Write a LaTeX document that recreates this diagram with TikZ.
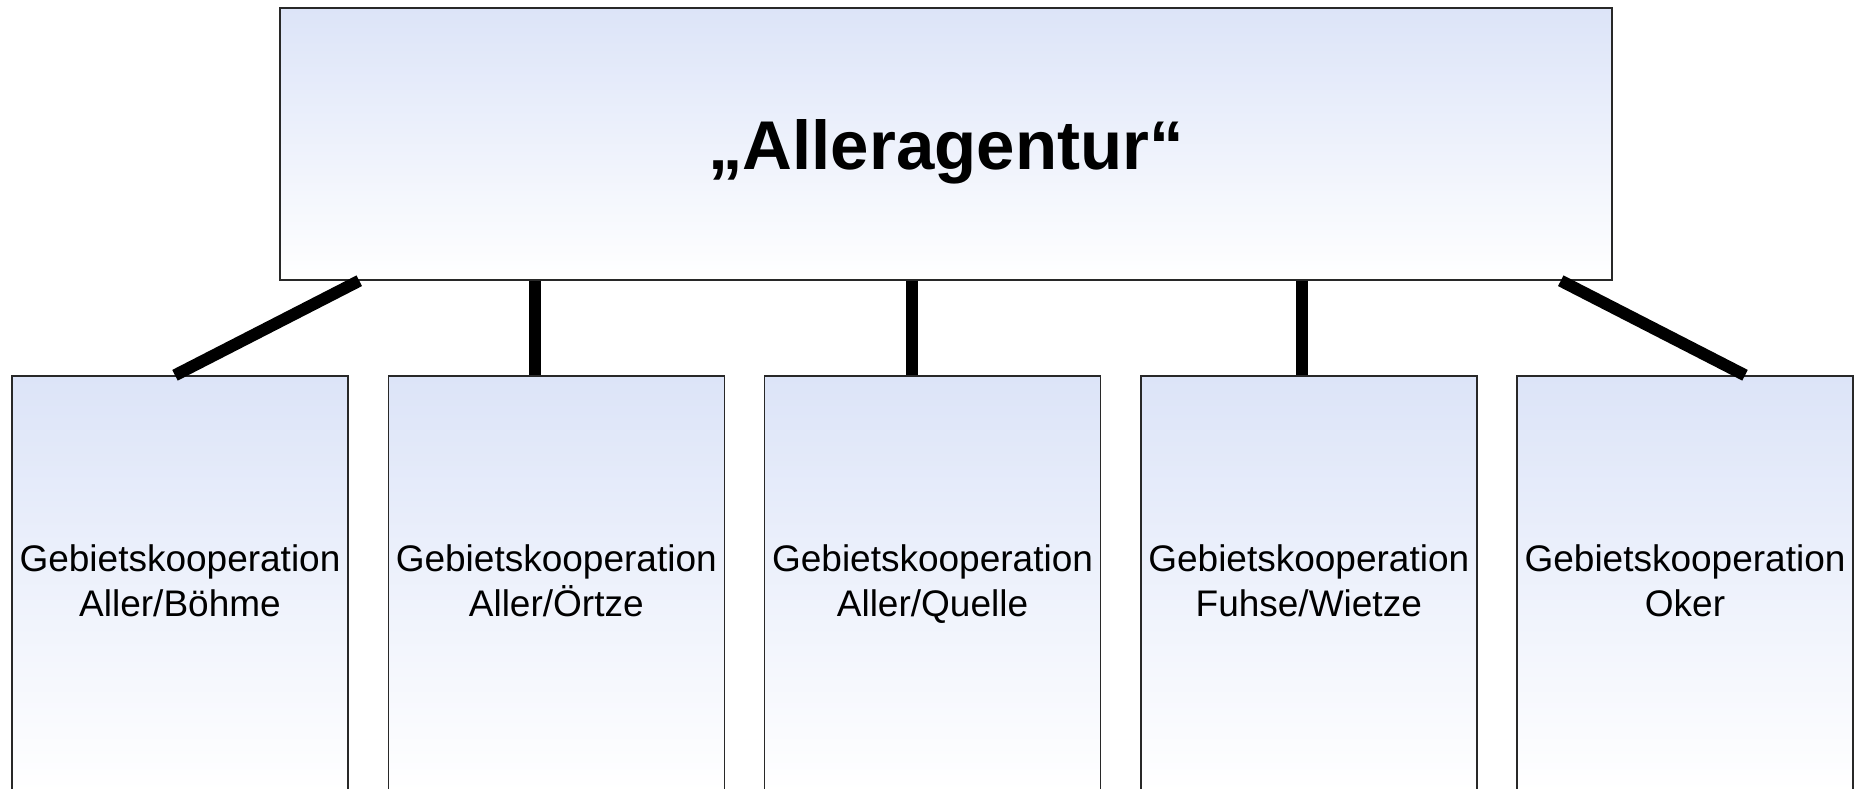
\documentclass[tikz,border=0pt]{standalone}
\usepackage{fontspec}
\setmainfont{Liberation Sans}
\usetikzlibrary{positioning}

\definecolor{boxblue}{RGB}{220,228,248}
\definecolor{boxline}{RGB}{40,40,40}

\tikzset{
  box/.style={draw=boxline, line width=1.5pt, top color=boxblue, bottom color=white,
    inner sep=0pt, align=center},
  agentur/.style={box, minimum width=1332pt, minimum height=272pt,
    text height=50pt, text depth=0pt,
    font=\fontsize{69}{80}\selectfont\bfseries},
  koop/.style={box, minimum width=336pt, minimum height=416pt,
    execute at end node={\vphantom{Q}},
    font=\fontsize{37}{45}\selectfont},
  link/.style={line width=12pt}
}

\begin{document}
\begin{tikzpicture}[x=1pt,y=-1pt]
        \useasboundingbox (0,0) rectangle (1854,789);

        \node[agentur] (agentur) at (946,144) {„Alleragentur“};

        \node[koop] (boehme) at (180,584)            {Gebietskooperation\\Aller/Böhme};
        \node[koop, right=38.75pt of boehme] (oertze) {Gebietskooperation\\Aller/Örtze};
        \node[koop, right=38.75pt of oertze] (quelle) {Gebietskooperation\\Aller/Quelle};
        \node[koop, right=38.75pt of quelle] (fuhse)  {Gebietskooperation\\Fuhse/Wietze};
        \node[koop, right=38.75pt of fuhse]  (oker)   {Gebietskooperation\\Oker};

        \draw [link] ([xshift=80pt]agentur.south west) -- ([xshift=-5pt]boehme.north);
        \draw [link] ([xshift=256pt]agentur.south west) coordinate (a2) -- (a2 |- oertze.north);
        \draw [link] ([xshift=632.5pt]agentur.south west) coordinate (a3) -- (a3 |- quelle.north);
        \draw [link] ([xshift=1022.5pt]agentur.south west) coordinate (a4) -- (a4 |- fuhse.north);
        \draw [link] ([xshift=-52pt]agentur.south east) -- ([xshift=60pt]oker.north);
      \end{tikzpicture}
\end{document}
